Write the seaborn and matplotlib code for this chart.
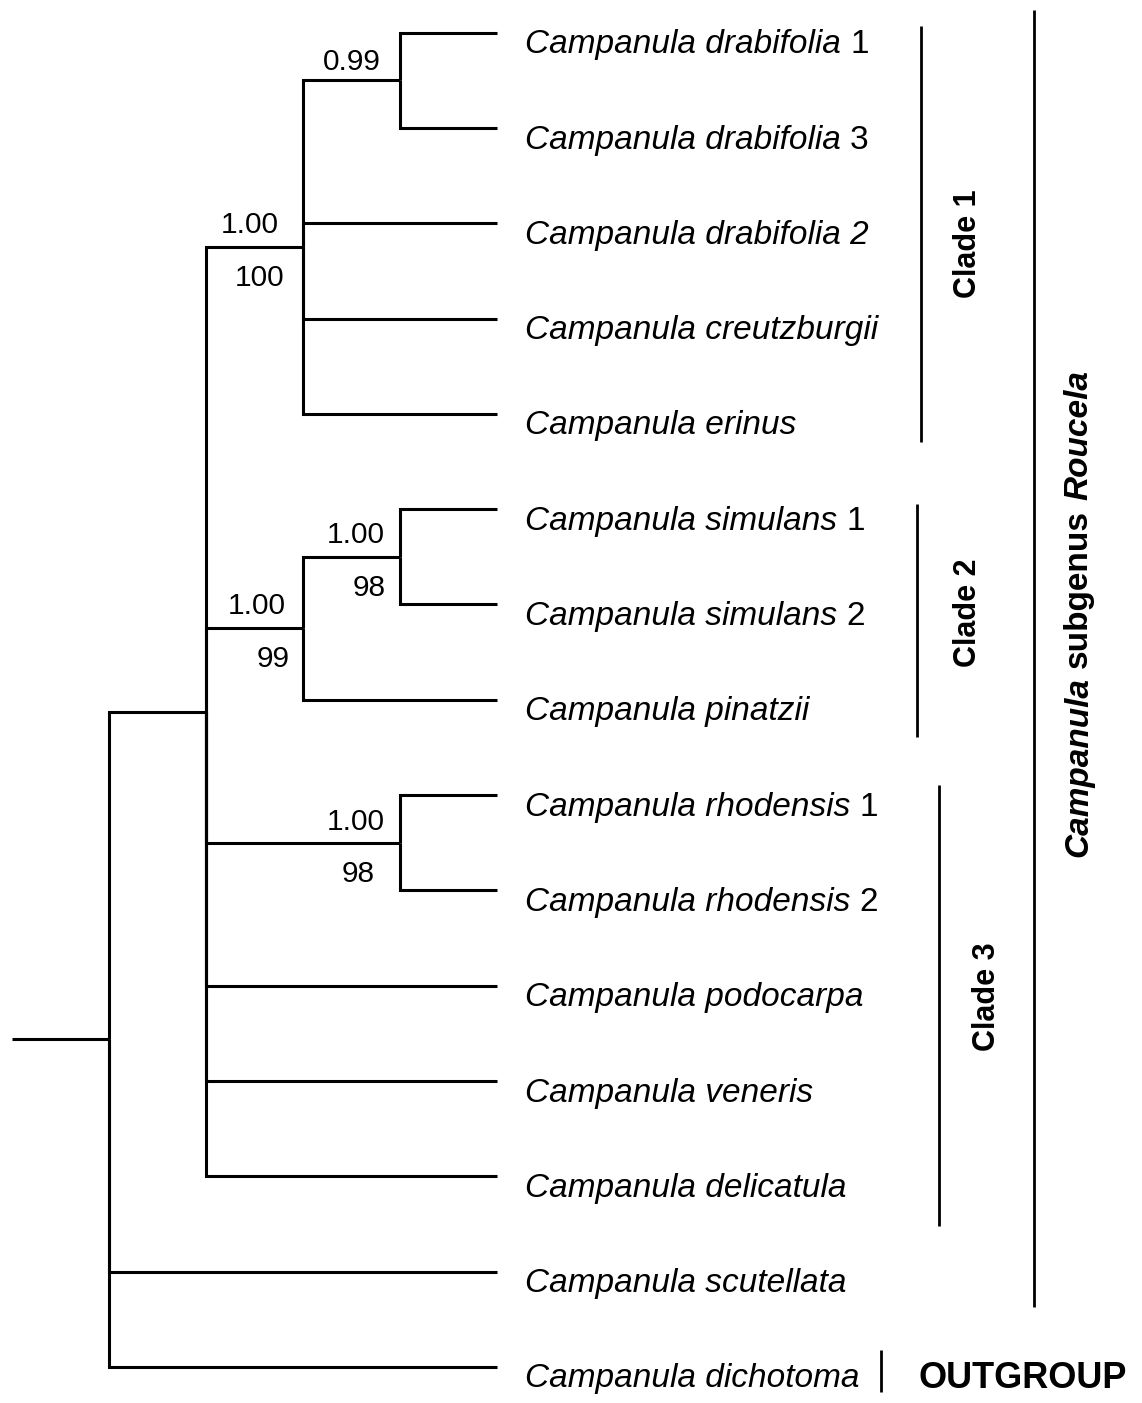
import numpy as np
import pandas as pd
import matplotlib
matplotlib.use("Agg")
import matplotlib.pyplot as plt
import seaborn as sns

# ---------------- data ----------------
tip_genus = ["Campanula"] * 15
tip_species = ["drabifolia", "drabifolia", "drabifolia 2", "creutzburgii", "erinus",
               "simulans", "simulans", "pinatzii", "rhodensis", "rhodensis",
               "podocarpa", "veneris", "delicatula", "scutellata", "dichotoma"]
tip_suffix = ["1", "3", "", "", "", "1", "2", "", "1", "2", "", "", "", "", ""]
tip_parent = ["drab13", "drab13", "clade1", "clade1", "clade1",
              "simulans", "simulans", "clade2", "rhodensis", "rhodensis",
              "roucela", "roucela", "roucela", "root", "root"]

node_names = ["root", "roucela", "clade1", "drab13", "clade2", "simulans", "rhodensis"]
node_parent = [None, "root", "roucela", "clade1", "roucela", "clade2", "roucela"]
node_depth = [1, 2, 3, 4, 3, 4, 4]
node_pp = ["", "", "1.00", "0.99", "1.00", "1.00", "1.00"]
node_bs = ["", "", "100", "", "99", "98", "98"]
tip_depth = 5
stem_depth = 0

clade_names = ["Clade 1", "Clade 2", "Clade 3"]
clade_first = [0, 5, 8]
clade_last = [4, 7, 12]
group_words = ["Campanula", "subgenus", "Roucela"]
group_word_italic = [True, False, True]
group_first, group_last = 0, 13
outgroup_name = "OUTGROUP"
outgroup_tip = 14

# ---------------- layout ----------------
W, H, DPI = 1142, 1403, 100
X0, XS = 12.0, 97.0      # px of depth 0, px per depth unit
Y0, YS = 32.7, 95.3      # px of tip 0, px per tip
PT = 72.0 / DPI          # points per pixel

def xd(px):
    return (px - X0) / XS

def yd(px):
    return (px - Y0) / YS

sns.set_theme(style="white")
plt.rcParams["font.family"] = ["Liberation Sans", "DejaVu Sans"]
plt.rcParams["text.color"] = "black"

# ---------------- tree geometry ----------------
n_tips = len(tip_species)
tip_y = np.arange(n_tips, dtype=float)
depth = dict(zip(node_names, node_depth))
children = {n: [] for n in node_names}
for i, p in enumerate(tip_parent):
    children[p].append(("tip", i))
for n, p in zip(node_names, node_parent):
    if p is not None:
        children[p].append(("node", n))

node_y = {}
def get_y(kind, key):
    if kind == "tip":
        return tip_y[key]
    if key not in node_y:
        ys = [get_y(k, c) for k, c in children[key]]
        node_y[key] = (min(ys) + max(ys)) / 2.0
    return node_y[key]
for n in node_names:
    get_y("node", n)

rows = []
seg = 0
for i, p in enumerate(tip_parent):
    for (x, y) in [(depth[p], node_y[p]), (depth[p], tip_y[i]), (tip_depth, tip_y[i])]:
        rows.append((seg, x, y))
    seg += 1
for n, p in zip(node_names, node_parent):
    if p is None:
        pts = [(stem_depth, node_y[n]), (depth[n], node_y[n])]
    else:
        pts = [(depth[p], node_y[p]), (depth[p], node_y[n]), (depth[n], node_y[n])]
    for (x, y) in pts:
        rows.append((seg, x, y))
    seg += 1
edges = pd.DataFrame(rows, columns=["seg", "x", "y"])

# ---------------- draw ----------------
fig = plt.figure(figsize=(W / DPI, H / DPI), dpi=DPI)
ax = fig.add_axes([0, 0, 1, 1])
sns.lineplot(data=edges, x="x", y="y", units="seg", estimator=None, sort=False,
             color="black", linewidth=2.2, legend=False, ax=ax,
             solid_joinstyle="miter", solid_capstyle="butt")
ax.set_xlim(xd(0), xd(W))
ax.set_ylim(yd(H), yd(0))
ax.axis("off")

tip_fs = 24
lab_dx = 28 * PT
lab_dy = -20.6 * PT
space = 0.278 * tip_fs
for i in range(n_tips):
    t = ax.annotate(f"{tip_genus[i]} {tip_species[i]}", xy=(tip_depth, tip_y[i]),
                    xytext=(lab_dx, lab_dy), textcoords="offset points",
                    ha="left", va="baseline", fontsize=tip_fs, style="italic",
                    color="black")
    if tip_suffix[i]:
        ax.annotate(tip_suffix[i], xy=(1, tip_y[i]), xycoords=(t, "data"),
                    xytext=(space, lab_dy), textcoords="offset points",
                    ha="left", va="baseline", fontsize=tip_fs, color="black")

# support values
sup_fs = 21.5
pp_dx = [0, 0, 24, 19, 17, 15, 15]
pp_dy = [0, 0, 14, 10, 14, 14, 13]
bs_dx = [0, 0, 19, 0, 13, 14, 25]
bs_dy = 39
for k, n in enumerate(node_names):
    if node_pp[k]:
        ax.annotate(node_pp[k], xy=(depth[n], node_y[n]),
                    xytext=(-pp_dx[k] * PT, pp_dy[k] * PT), textcoords="offset points",
                    ha="right", va="baseline", fontsize=sup_fs, color="black")
    if node_bs[k]:
        ax.annotate(node_bs[k], xy=(depth[n], node_y[n]),
                    xytext=(-bs_dx[k] * PT, -bs_dy * PT), textcoords="offset points",
                    ha="right", va="baseline", fontsize=sup_fs, color="black")

# clade bars and labels
bar_lw = 2.0
clade_bar_x = [921, 917, 939]
clade_pad = [(7, 28), (5, 37), (10, 50)]
clade_lab_x = [967.5, 967.5, 987]
clade_lab_y = [243.5, 613, 997]
for c, name in enumerate(clade_names):
    ytop = clade_first[c] - clade_pad[c][0] / YS
    ybot = clade_last[c] + clade_pad[c][1] / YS
    ax.vlines(xd(clade_bar_x[c]), ytop, ybot, color="black", lw=bar_lw)
    ax.text(xd(clade_lab_x[c]), yd(clade_lab_y[c]), name, rotation=90,
            ha="center", va="center", fontsize=22, fontweight="bold", color="black")

# subgenus bar and label
gy0 = group_first - 23 / YS
gy1 = group_last + 35 / YS
ax.vlines(xd(1034), gy0, gy1, color="black", lw=bar_lw)
prev = None
gx = xd(1078.5)
for w, it in zip(group_words, group_word_italic):
    kw = dict(rotation=90, ha="center", va="bottom", fontsize=24, fontweight="bold",
              style="italic" if it else "normal", color="black")
    if prev is None:
        prev = ax.text(gx, yd(857), w, **kw)
    else:
        prev = ax.annotate(w, xy=(gx, 1), xycoords=("data", prev),
                           xytext=(0, 0.278 * 24), textcoords="offset points", **kw)

# outgroup bar and label
ax.vlines(xd(881), outgroup_tip - 17 / YS, outgroup_tip + 25 / YS, color="black", lw=bar_lw)
ax.annotate(outgroup_name, xy=(xd(918), outgroup_tip), xytext=(0, -21 * PT),
            textcoords="offset points", ha="left", va="baseline",
            fontsize=26, fontweight="bold", color="black")

fig.savefig("out.png", dpi=DPI)
